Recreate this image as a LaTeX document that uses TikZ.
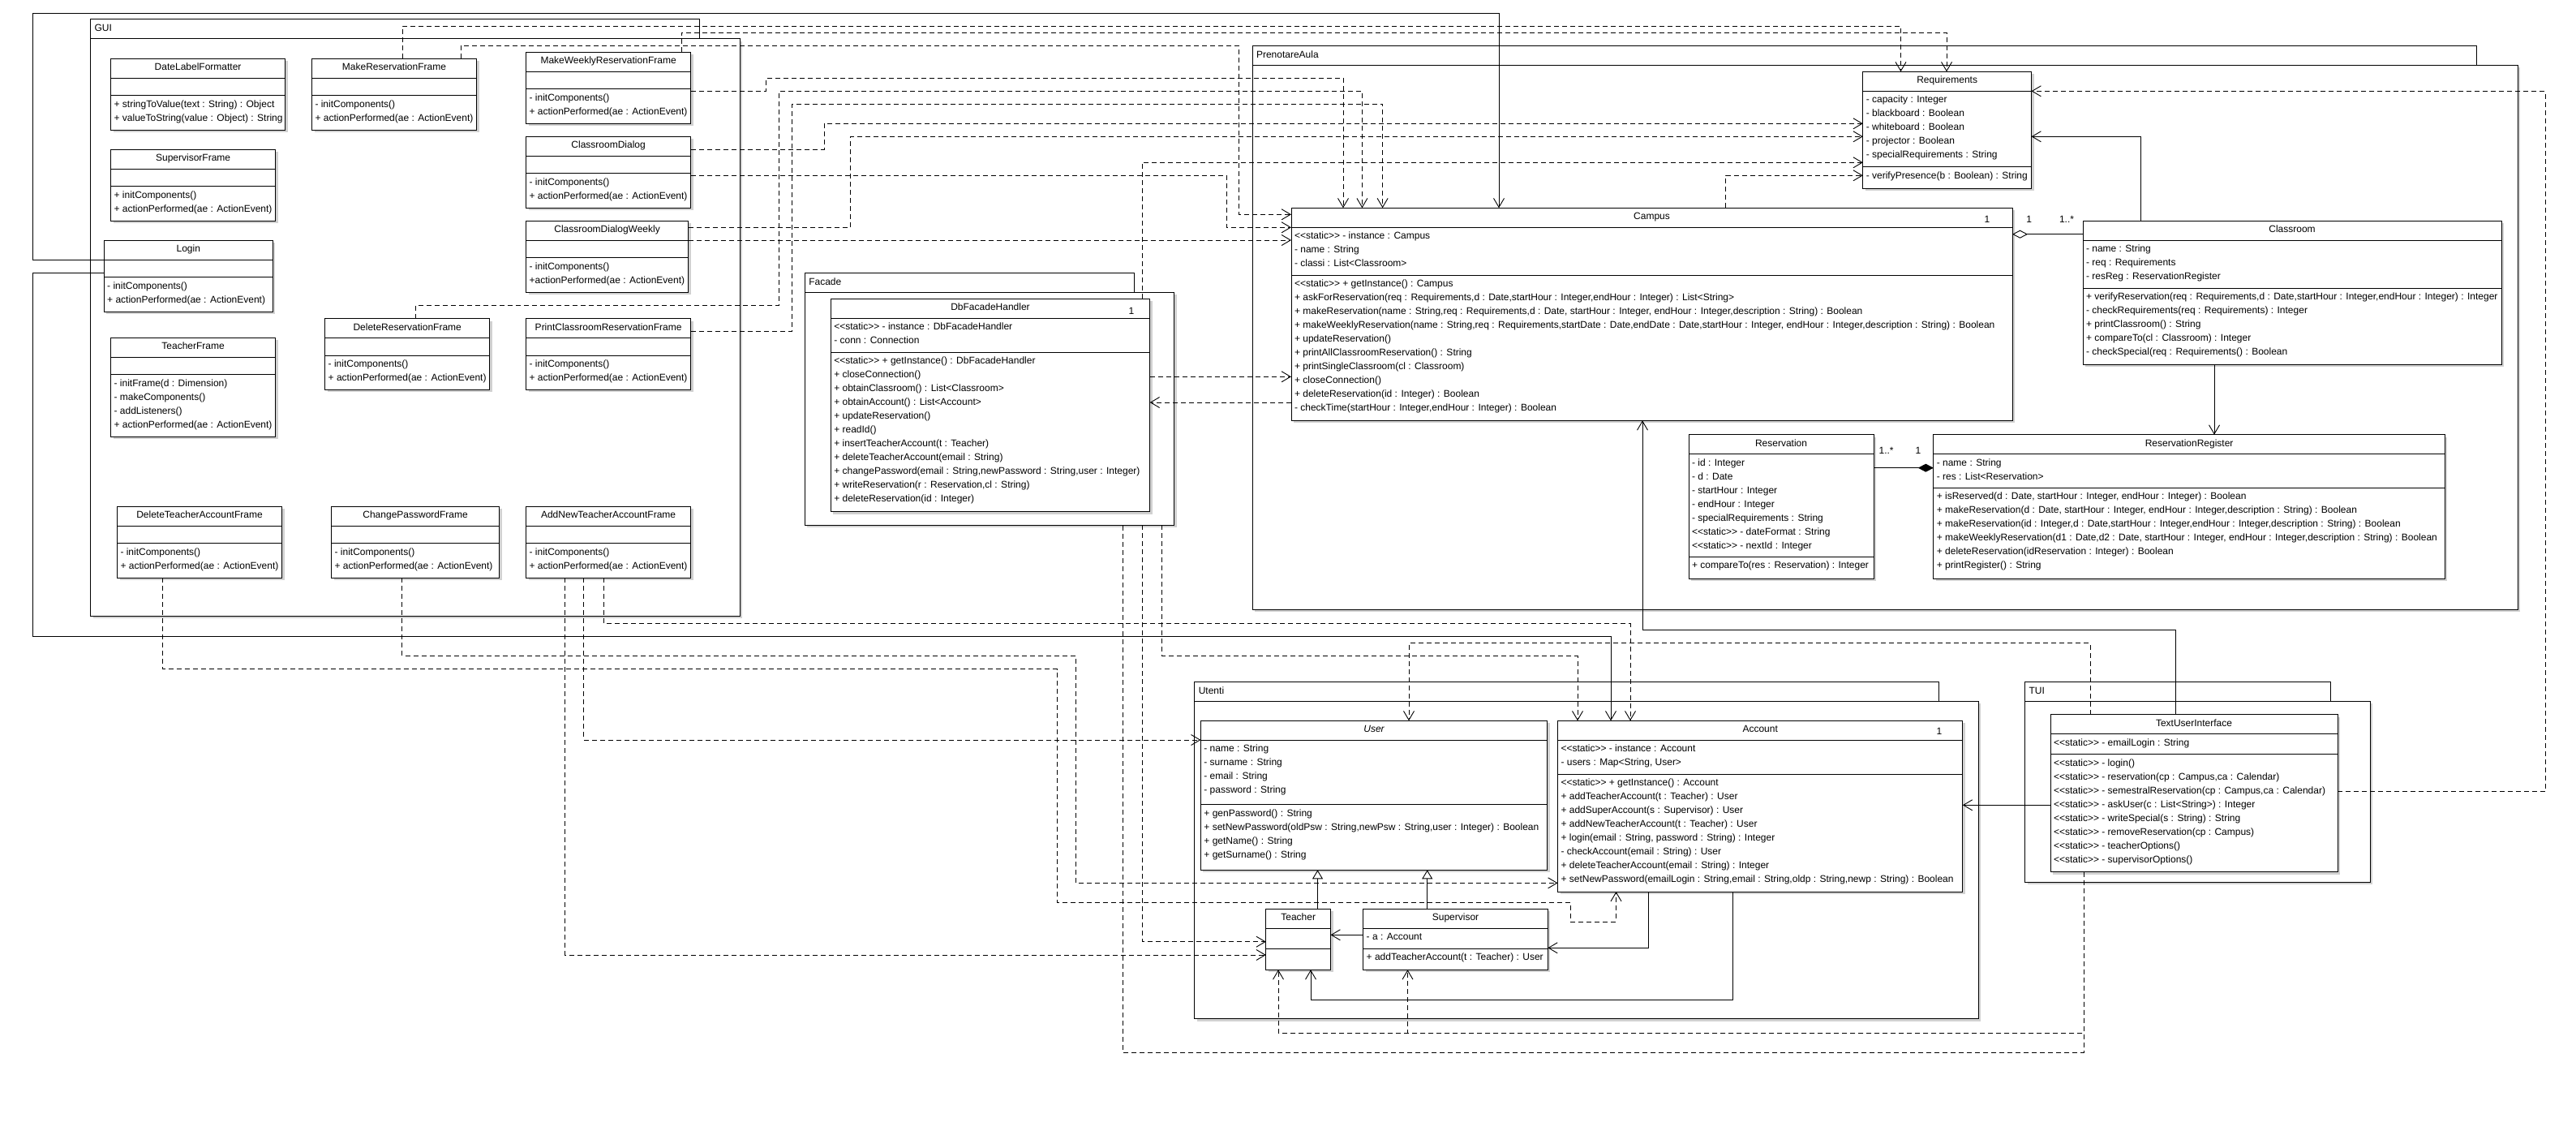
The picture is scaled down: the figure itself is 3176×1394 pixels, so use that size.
\documentclass[tikz,border=0pt]{standalone}
\usepackage{fontspec}
\setmainfont{Liberation Sans}
\usetikzlibrary{arrows.meta}
\newcommand{\stt}{<\kern0pt<static>\kern0pt>}
\tikzset{
  box/.style={draw=black, fill=white, line width=1pt, inner sep=0pt, outer sep=0pt},
  shad/.style={fill=black!18},
  txt/.style={inner sep=0pt, outer sep=0pt, font=\fontsize{12}{17}\selectfont},
  conn/.style={line width=0.9pt},
  dep/.style={conn, dash pattern=on 6pt off 4pt, -{Straight Barb[length=11pt,width=13pt]}},
  dline/.style={conn, dash pattern=on 6pt off 4pt},
  assoc/.style={conn, -{Straight Barb[length=11pt,width=13pt]}},
  gen/.style={conn, -{Triangle[length=11pt,width=13pt,fill=white]}},
  aggr/.style={conn, {Diamond[length=19pt,width=10pt,fill=white]}-},
  compo/.style={conn, {Diamond[length=19pt,width=10pt,fill=black]}-},
  mult/.style={txt, anchor=base},
}
% #1 id, #2 x, #3 y, #4 width, #5 title, #6 attr height, #7 attrs, #8 ops height, #9 ops
\newcommand{\umlclass}[9]{%
  \pgfmathsetmacro{\ClsH}{24+#6+#8}%
  \fill[shad] (#2+3,#3+3) rectangle ++(#4,\ClsH);%
  \node[box, anchor=north west, minimum width=#4pt, minimum height=\ClsH pt] (#1) at (#2,#3) {};%
  \draw[line width=1pt] (#2,#3+24) -- ++(#4,0) (#2,#3+24+#6) -- ++(#4,0);%
  \node[txt, anchor=base] at (#2+#4/2,#3+14.5) {#5};%
  \def\tmplist{#7}\ifx\tmplist\empty\else
    \foreach \itm [count=\cnt] in {#7} {\node[txt, anchor=base west] at (#2+4,#3+24+14.5+17*\cnt-17) {\itm};}%
  \fi
  \def\tmplist{#9}\ifx\tmplist\empty\else
    \foreach \itm [count=\cnt] in {#9} {\node[txt, anchor=base west] at (#2+4,#3+24+#6+14.5+17*\cnt-17) {\itm};}%
  \fi
}
% #1 id, #2 label, #3 x, #4 tab top, #5 tab right, #6 body top, #7 body right, #8 body bottom
\newcommand{\umlpkg}[8]{%
  \pgfmathsetmacro{\PkW}{#7-#3}\pgfmathsetmacro{\PkH}{#8-#6}%
  \fill[shad] (#3+3,#6+3) rectangle (#7+3,#8+3);%
  \draw[box] (#3,#4) rectangle (#5,#6);%
  \node[box, anchor=north west, minimum width=\PkW pt, minimum height=\PkH pt] (#1) at (#3,#6) {};%
  \node[txt, anchor=base west] at (#3+5,#4+15) {#2};%
}
\begin{document}
\begin{tikzpicture}[x=1pt,y=-1pt]
\useasboundingbox (0,0) rectangle (3176,1394);
\fill[white] (0,0) rectangle (3176,1394);
% ---------------- packages
\umlpkg{gui}{GUI}{111.5}{24}{862}{48}{912}{759}
\umlpkg{prenotare}{PrenotareAula}{1544}{56.7}{3053}{80.3}{3104}{751}
\umlpkg{facade}{Facade}{992.3}{336.3}{1398.3}{360.3}{1447.7}{647.3}
\umlpkg{utenti}{Utenti}{1472.8}{840.7}{2390}{864}{2439}{1255.7}
\umlpkg{tui}{TUI}{2496.5}{840.7}{2873}{864}{2922}{1087.3}
% ---------------- GUI classes
\umlclass{dlf}{136.6}{72.3}{215}{DateLabelFormatter}{21.3}{}{42.7}{{+ stringToValue(text : String) : Object},{+ valueToString(value : Object) : String}}
\umlclass{mrf}{384.5}{72.3}{203}{MakeReservationFrame}{21.3}{}{42.7}{{- initComponents()},{+ actionPerformed(ae : ActionEvent)}}
\umlclass{mwrf}{648.6}{64.3}{203}{MakeWeeklyReservationFrame}{21.3}{}{42.7}{{- initComponents()},{+ actionPerformed(ae : ActionEvent)}}
\umlclass{svf}{136.6}{184.3}{203}{SupervisorFrame}{21.3}{}{42.7}{{+ initComponents()},{+ actionPerformed(ae : ActionEvent)}}
\umlclass{cd}{648.6}{168.3}{203}{ClassroomDialog}{21.3}{}{42.7}{{- initComponents()},{+ actionPerformed(ae : ActionEvent)}}
\umlclass{login}{128.2}{296.3}{208.2}{Login}{21.3}{}{42.7}{{- initComponents()},{+ actionPerformed(ae : ActionEvent)}}
\umlclass{cdw}{648.6}{272.3}{200}{ClassroomDialogWeekly}{21.3}{}{42.7}{{- initComponents()},{+actionPerformed(ae : ActionEvent)}}
\umlclass{drf}{400.7}{392.7}{203}{DeleteReservationFrame}{21.3}{}{42.3}{{- initComponents()},{+ actionPerformed(ae : ActionEvent)}}
\umlclass{pcrf}{648.6}{392.7}{203}{PrintClassroomReservationFrame}{21.3}{}{42.3}{{- initComponents()},{+ actionPerformed(ae : ActionEvent)}}
\umlclass{tf}{136.6}{416.3}{203}{TeacherFrame}{21.3}{}{76.7}{{- initFrame(d : Dimension)},{- makeComponents()},{- addListeners()},{+ actionPerformed(ae : ActionEvent)}}
\umlclass{dtaf}{144.5}{624.3}{203}{DeleteTeacherAccountFrame}{21.3}{}{42.7}{{- initComponents()},{+ actionPerformed(ae : ActionEvent)}}
\umlclass{cpf}{408.6}{624.3}{207}{ChangePasswordFrame}{21.3}{}{42.7}{{- initComponents()},{+ actionPerformed(ae : ActionEvent)}}
\umlclass{antaf}{648.6}{624.3}{203}{AddNewTeacherAccountFrame}{21.3}{}{42.7}{{- initComponents()},{+ actionPerformed(ae : ActionEvent)}}
% ---------------- Facade
\umlclass{dbf}{1024.3}{368.3}{393.4}{DbFacadeHandler}{42}{{\stt{} - instance : DbFacadeHandler},{- conn : Connection}}{196.4}{{\stt{} + getInstance() : DbFacadeHandler},{+ closeConnection()},{+ obtainClassroom() : List<Classroom>},{+ obtainAccount() : List<Account>},{+ updateReservation()},{+ readId()},{+ insertTeacherAccount(t : Teacher)},{+ deleteTeacherAccount(email : String)},{+ changePassword(email : String,newPassword : String,user : Integer)},{+ writeReservation(r : Reservation,cl : String)},{+ deleteReservation(id : Integer)}}
\node[mult] at (1395,387) {1};
% ---------------- PrenotareAula
\umlclass{req}{2296.8}{88.3}{207.7}{Requirements}{93.4}{{- capacity : Integer},{- blackboard : Boolean},{- whiteboard : Boolean},{- projector : Boolean},{- specialRequirements : String}}{26.6}{{- verifyPresence(b : Boolean) : String}}
\umlclass{campus}{1592}{256.3}{889}{Campus}{59}{{\stt{} - instance : Campus},{- name : String},{- classi : List<Classroom>}}{179}{{\stt{} + getInstance() : Campus},{+ askForReservation(req : Requirements,d : Date,startHour : Integer,endHour : Integer) : List<String>},{+ makeReservation(name : String,req : Requirements,d : Date, startHour : Integer, endHour : Integer,description : String) : Boolean},{+ makeWeeklyReservation(name : String,req : Requirements,startDate : Date,endDate : Date,startHour : Integer, endHour : Integer,description : String) : Boolean},{+ updateReservation()},{+ printAllClassroomReservation() : String},{+ printSingleClassroom(cl : Classroom)},{+ closeConnection()},{+ deleteReservation(id : Integer) : Boolean},{- checkTime(startHour : Integer,endHour : Integer) : Boolean}}
\node[mult] at (2450,274) {1};
\umlclass{classroom}{2568}{272.3}{516}{Classroom}{59}{{- name : String},{- req : Requirements},{- resReg : ReservationRegister}}{93.7}{{+ verifyReservation(req : Requirements,d : Date,startHour : Integer,endHour : Integer) : Integer},{- checkRequirements(req : Requirements) : Integer},{+ printClassroom() : String},{+ compareTo(cl : Classroom) : Integer},{- checkSpecial(req : Requirements() : Boolean}}
\umlclass{reservation}{2082}{535.7}{228}{Reservation}{126.7}{{- id : Integer},{- d : Date},{- startHour : Integer},{- endHour : Integer},{- specialRequirements : String},{\stt{} - dateFormat : String},{\stt{} - nextId : Integer}}{26.6}{{+ compareTo(res : Reservation) : Integer}}
\umlclass{resreg}{2383.8}{535.7}{630.6}{ReservationRegister}{41.7}{{- name : String},{- res : List<Reservation>}}{111.6}{{+ isReserved(d : Date, startHour : Integer, endHour : Integer) : Boolean},{+ makeReservation(d : Date, startHour : Integer, endHour : Integer,description : String) : Boolean},{+ makeReservation(id : Integer,d : Date,startHour : Integer,endHour : Integer,description : String) : Boolean},{+ makeWeeklyReservation(d1 : Date,d2 : Date, startHour : Integer, endHour : Integer,description : String) : Boolean},{+ deleteReservation(idReservation : Integer) : Boolean},{+ printRegister() : String}}
% ---------------- Utenti
\umlclass{user}{1480.4}{888.3}{427.3}{\itshape User}{79.4}{{- name : String},{- surname : String},{- email : String},{- password : String}}{80.6}{{+ genPassword() : String},{+ setNewPassword(oldPsw : String,newPsw : String,user : Integer) : Boolean},{+ getName() : String},{+ getSurname() : String}}
\umlclass{account}{1920.5}{888.3}{499.3}{Account}{42}{{\stt{} - instance : Account},{- users : Map<String, User>}}{144.7}{{\stt{} + getInstance() : Account},{+ addTeacherAccount(t : Teacher) : User},{+ addSuperAccount(s : Supervisor) : User},{+ addNewTeacherAccount(t : Teacher) : User},{+ login(email : String, password : String) : Integer},{- checkAccount(email : String) : User},{+ deleteTeacherAccount(email : String) : Integer},{+ setNewPassword(emailLogin : String,email : String,oldp : String,newp : String) : Boolean}}
\node[mult] at (2391,905) {1};
\umlclass{teacher}{1560.8}{1120.3}{79.7}{Teacher}{25}{}{26}{}
\umlclass{supervisor}{1680.7}{1120.3}{227.6}{Supervisor}{25}{{- a : Account}}{26}{{+ addTeacherAccount(t : Teacher) : User}}
% ---------------- TUI
\umlclass{tuic}{2528}{880.7}{354}{TextUserInterface}{25}{{\stt{} - emailLogin : String}}{145}{{\stt{} - login()},{\stt{} - reservation(cp : Campus,ca : Calendar)},{\stt{} - semestralReservation(cp : Campus,ca : Calendar)},{\stt{} - askUser(c : List<String>) : Integer},{\stt{} - writeSpecial(s : String) : String},{\stt{} - removeReservation(cp : Campus)},{\stt{} - teacherOptions()},{\stt{} - supervisorOptions()}}
% ---------------- connectors
\draw[assoc] (login.west |- 0,320) -- (40,320) -- (40,16) -- (1848,16) -- (campus.north -| 1848,0);
\draw[assoc] (login.west |- 0,336) -- (40,336) -- (40,784) -- (1986,784) -- (account.north -| 1986,0);
\draw[dep] (mrf.north -| 496,0) -- (496,32.3) -- (2343.5,32.3) -- (req.north -| 2343.5,0);
\draw[dep] (mrf.north -| 568,0) -- (568,56.3) -- (1527,56.3) -- (1527,264.3) -- (campus.west |- 0,264.3);
\draw[dep] (mwrf.north -| 840,0) -- (840,40) -- (2400,40) -- (req.north -| 2400,0);
\draw[dep] (mwrf.east |- 0,112.5) -- (944.6,112.5) -- (944.6,96.7) -- (1656,96.7) -- (campus.north -| 1656,0);
\draw[dep] (drf.north -| 512.6,0) -- (512.6,376) -- (960.7,376) -- (960.7,112.5) -- (1679.4,112.5) -- (campus.north -| 1679.4,0);
\draw[dep] (pcrf.east |- 0,408.3) -- (976.3,408.3) -- (976.3,128.3) -- (1704.6,128.3) -- (campus.north -| 1704.6,0);
\draw[dep] (cd.east |- 0,184) -- (1016,184) -- (1016,152.3) -- (req.west |- 0,152.3);
\draw[dep] (cd.east |- 0,216.3) -- (1512,216.3) -- (1512,280.3) -- (campus.west |- 0,280.3);
\draw[dep] (cdw.east |- 0,280.3) -- (1048,280.3) -- (1048,168.3) -- (req.west |- 0,168.3);
\draw[dep] (cdw.east |- 0,296) -- (campus.west |- 0,296);
\draw[dep] (dbf.north -| 1408.3,0) -- (1408.3,200.3) -- (req.west |- 0,200.3);
\draw[dep] (dbf.east |- 0,464.3) -- (campus.west |- 0,464.3);
\draw[dep] (campus.west |- 0,496) -- (dbf.east |- 0,496);
\draw[dep] (campus.north -| 2127.7,0) -- (2127.7,216.3) -- (req.west |- 0,216.3);
\draw[aggr] (campus.east |- 0,288.7) -- (classroom.west |- 0,288.7);
\node[mult] at (2501.7,274) {1};
\node[mult] at (2548,274) {1..*};
\draw[assoc] (classroom.north -| 2639.7,0) -- (2639.7,168.3) -- (req.east |- 0,168.3);
\draw[assoc] (classroom.south -| 2730,0) -- (resreg.north -| 2730,0);
\draw[compo] (resreg.west |- 0,576.7) -- (reservation.east |- 0,576.7);
\node[mult] at (2325.6,559.5) {1..*};
\node[mult] at (2365,559.5) {1};
\draw[dep] (tuic.east |- 0,975.7) -- (3138,975.7) -- (3138,112.3) -- (req.east |- 0,112.3);
\draw[assoc] (tuic.north -| 2682,0) -- (2682,776) -- (2025,776) -- (campus.south -| 2025,0);
\draw[assoc] (tuic.west |- 0,992.3) -- (account.east |- 0,992.3);
\draw[dep] (tuic.north -| 2577,0) -- (2577,792.7) -- (1737,792.7) -- (user.north -| 1737,0);
\draw[dep] (tuic.south -| 2569,0) -- (2569,1273) -- (1576,1273) -- (teacher.south -| 1576,0);
\draw[dep] (tuic.south -| 2569,0) -- (2569,1273) -- (1735.5,1273) -- (supervisor.south -| 1735.5,0);
\draw[dline] (tuic.south -| 2569,0) -- (2569,1297) -- (1384.3,1297) -- (facade.south -| 1384.3,0);
\draw[dep] (facade.south -| 1408.3,0) -- (1408.3,1160.7) -- (teacher.west |- 0,1160.7);
\draw[dep] (facade.south -| 1432.3,0) -- (1432.3,808.5) -- (1945,808.5) -- (account.north -| 1945,0);
\draw[dep] (cpf.south -| 495.9,0) -- (495.9,808.5) -- (1326,808.5) -- (1326,1088.3) -- (account.west |- 0,1088.3);
\draw[dep] (dtaf.south -| 200,0) -- (200,824.6) -- (1303,824.6) -- (1303,1112.7) -- (1936.4,1112.7) -- (1936.4,1136) -- (1992.5,1136) -- (account.south -| 1992.5,0);
\draw[dep] (antaf.south -| 744.2,0) -- (744.2,768.4) -- (2010,768.4) -- (account.north -| 2010,0);
\draw[dep] (antaf.south -| 719.8,0) -- (719.8,912) -- (user.west |- 0,912);
\draw[dep] (antaf.south -| 696.3,0) -- (696.3,1177) -- (teacher.west |- 0,1177);
\draw[gen] (teacher.north -| 1624.5,0) -- (user.south -| 1624.5,0);
\draw[gen] (supervisor.north -| 1759.7,0) -- (user.south -| 1759.7,0);
\draw[assoc] (supervisor.west |- 0,1152.3) -- (teacher.east |- 0,1152.3);
\draw[assoc] (account.south -| 2032,0) -- (2032,1168.3) -- (supervisor.east |- 0,1168.3);
\draw[assoc] (account.south -| 2136,0) -- (2136,1232.3) -- (1616,1232.3) -- (teacher.south -| 1616,0);
\end{tikzpicture}
\end{document}
